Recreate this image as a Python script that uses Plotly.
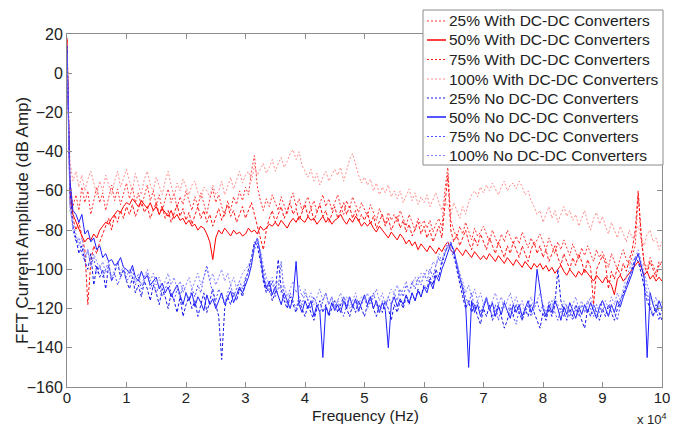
import plotly.graph_objects as go

# Frequency grid (Hz)
freq = [0, 250] + list(range(500, 100001, 500))

w25 = [17, -30,
       -55, -68, -62, -70, -58, -66, -60, -72, -64, -58,
       -66, -61, -70, -63, -57, -65, -59, -67, -62, -56,
       -64, -58, -66, -61, -68, -63, -57, -65, -60, -67,
       -62, -70, -64, -59, -66, -61, -69, -63, -67, -60,
       -65, -70, -63, -68, -61, -66, -72, -64, -59, -66,
       -62, -68, -73, -65, -70, -63, -67, -60, -65, -58,
       -62, -50, -42, -58, -65, -70, -64, -68, -62, -66,
       -70, -63, -67, -72, -65, -61, -68, -64, -70, -66,
       -63, -69, -65, -71, -67, -62, -68, -64, -70, -66,
       -62, -68, -72, -65, -69, -63, -67, -71, -66, -70,
       -73, -67, -71, -75, -69, -73, -77, -71, -75, -72,
       -76, -70, -74, -78, -72, -76, -80, -74, -78, -75,
       -79, -75, -81, -77, -74, -79, -60, -48, -75, -80,
       -84, -78, -82, -76, -80, -85, -79, -83, -81, -78,
       -82, -86, -80, -84, -88, -82, -86, -80, -84, -87,
       -83, -87, -81, -85, -89, -84, -88, -85, -82, -86,
       -90, -84, -88, -92, -86, -90, -85, -89, -93, -87,
       -91, -95, -89, -93, -88, -92, -96, -90, -94, -91,
       -95, -99, -92, -96, -100, -94, -90, -95, -98, -93,
       -88, -62, -85, -96, -100, -94, -98, -102, -96, -99]

w50 = [18, -30,
       -60, -72, -76, -80, -83, -86, -84, -85, -82, -84,
       -80, -78, -76, -77, -74, -72, -70, -71, -68, -66,
       -67, -64, -66, -68, -65, -67, -69, -66, -70, -68,
       -72, -69, -71, -73, -70, -74, -72, -75, -74, -77,
       -75, -78, -77, -80, -78, -79, -82, -86, -95, -84,
       -80, -82, -79, -81, -83, -80, -82, -81, -83, -82,
       -79, -81, -80, -82, -78, -80, -79, -77, -78, -76,
       -78, -75, -77, -79, -76, -74, -76, -73, -75, -76,
       -73, -75, -74, -77, -75, -73, -76, -74, -77, -75,
       -74, -72, -75, -77, -74, -76, -73, -75, -78, -76,
       -78, -76, -79, -81, -78, -80, -82, -84, -81, -83,
       -85, -82, -84, -87, -85, -88, -86, -90, -87, -89,
       -91, -88, -90, -92, -89, -91, -88, -86, -90, -92,
       -89, -91, -93, -90, -92, -94, -91, -93, -95, -93,
       -95, -92, -94, -96, -93, -95, -97, -94, -96, -98,
       -95, -97, -99, -96, -98, -100, -97, -99, -97, -100,
       -98, -101, -99, -102, -100, -98, -101, -103, -100, -102,
       -104, -101, -103, -100, -102, -104, -106, -103, -105, -107,
       -104, -106, -108, -113, -105, -103, -106, -104, -102, -100,
       -98, -96, -99, -103, -101, -105, -103, -106, -104, -106]

w75 = [16, -35,
       -66, -74, -80, -76, -84, -90, -118, -96, -88, -92,
       -86, -82, -78, -74, -80, -72, -76, -70, -74, -68,
       -72, -67, -73, -69, -65, -71, -68, -74, -70, -66,
       -72, -68, -74, -70, -76, -71, -67, -73, -69, -75,
       -71, -77, -72, -68, -74, -70, -76, -72, -78, -73,
       -69, -75, -71, -67, -73, -70, -76, -72, -68, -74,
       -70, -66, -72, -78, -84, -90, -80, -74, -70, -76,
       -72, -68, -74, -70, -66, -72, -69, -75, -71, -67,
       -73, -69, -75, -71, -67, -73, -70, -76, -72, -68,
       -74, -70, -66, -72, -68, -74, -70, -76, -72, -75,
       -71, -77, -73, -79, -75, -72, -78, -74, -80, -76,
       -73, -79, -75, -81, -77, -83, -79, -76, -82, -78,
       -84, -80, -86, -82, -78, -84, -66, -52, -80, -86,
       -82, -88, -84, -80, -86, -90, -84, -88, -82, -86,
       -90, -84, -88, -92, -86, -90, -94, -88, -92, -86,
       -90, -94, -88, -92, -96, -90, -86, -92, -88, -94,
       -90, -96, -92, -88, -94, -98, -92, -96, -100, -94,
       -98, -92, -96, -102, -95, -99, -118, -100, -96, -93,
       -97, -110, -101, -105, -99, -103, -97, -101, -95, -90,
       -80, -60, -82, -98, -102, -96, -100, -104, -98, -96]

w100 = [15, -25,
        -45, -55, -50, -58, -52, -60, -54, -50, -56, -62,
        -55, -60, -52, -57, -62, -55, -50, -58, -53, -49,
        -55, -60, -51, -56, -62, -54, -50, -57, -60, -53,
        -58, -62, -55, -50, -57, -63, -56, -60, -54, -58,
        -62, -57, -55, -61, -64, -58, -60, -63, -57, -62,
        -60, -55, -62, -58, -53, -59, -55, -50, -56, -52,
        -50, -55, -47, -52, -49, -46, -51, -48, -44, -50,
        -46, -43, -48, -45, -41, -39, -44, -40, -47, -50,
        -53, -49, -55, -51, -57, -53, -50, -55, -52, -49,
        -52, -48, -55, -50, -44, -41, -47, -52, -56, -53,
        -57, -54, -60, -56, -62, -58, -61, -57, -63, -60,
        -64, -60, -66, -62, -59, -65, -61, -67, -63, -66,
        -62, -68, -64, -61, -66, -70, -64, -68, -72, -66,
        -70, -74, -68, -72, -66, -62, -60, -63, -58, -61,
        -57, -60, -56, -59, -62, -58, -55, -60, -57, -56,
        -59, -55, -58, -62, -60, -65, -68, -72, -70, -76,
        -72, -68, -74, -70, -76, -72, -68, -73, -70, -75,
        -72, -78, -74, -70, -76, -80, -74, -71, -77, -73,
        -78, -82, -76, -80, -84, -78, -82, -86, -80, -84,
        -82, -78, -84, -88, -82, -80, -86, -84, -90, -86]

n25 = [14, -25,
       -60, -78, -84, -92, -88, -96, -100, -92, -108, -98,
       -104, -100, -110, -98, -106, -102, -96, -104, -100, -106,
       -110, -104, -112, -108, -114, -106, -110, -116, -108, -112,
       -118, -110, -114, -120, -112, -116, -122, -114, -124, -118,
       -114, -120, -116, -124, -118, -112, -122, -116, -110, -118,
       -124, -146, -120, -114, -118, -112, -116, -110, -114, -106,
       -100, -94, -86, -88, -96, -106, -112, -108, -116, -112,
       -95, -110, -116, -120, -114, -118, -122, -116, -120, -124,
       -118, -122, -126, -120, -116, -122, -118, -124, -120, -116,
       -122, -118, -114, -120, -124, -118, -122, -116, -120, -124,
       -118, -114, -120, -124, -118, -122, -116, -120, -126, -118,
       -122, -116, -120, -114, -118, -112, -116, -110, -114, -108,
       -110, -104, -108, -100, -104, -96, -92, -88, -86, -92,
       -100, -108, -114, -120, -116, -122, -118, -124, -128, -120,
       -124, -118, -126, -122, -118, -124, -130, -126, -120, -124,
       -118, -122, -126, -120, -124, -118, -122, -126, -130, -122,
       -126, -120, -124, -118, -100, -116, -122, -126, -120, -124,
       -118, -122, -126, -130, -120, -124, -118, -122, -126, -120,
       -124, -118, -122, -126, -120, -116, -112, -108, -104, -100,
       -94, -96, -102, -110, -116, -120, -124, -118, -122, -126]

n50 = [12, -20,
       -55, -70, -72, -76, -72, -82, -80, -86, -84, -90,
       -88, -94, -92, -96, -95, -98, -97, -94, -99, -100,
       -102, -98, -104, -106, -101, -105, -103, -108, -106, -104,
       -110, -107, -112, -109, -114, -111, -108, -113, -118, -112,
       -116, -112, -119, -114, -117, -121, -113, -118, -115, -120,
       -116, -112, -118, -114, -111, -117, -113, -109, -112, -108,
       -104, -98, -88, -84, -92, -104, -110, -106, -113, -109,
       -114, -118, -112, -116, -120, -114, -96, -118, -122, -116,
       -120, -116, -124, -118, -122, -145, -119, -123, -117, -121,
       -118, -122, -116, -120, -114, -119, -115, -121, -117, -113,
       -118, -114, -120, -116, -122, -117, -121, -140, -118, -114,
       -119, -115, -118, -113, -117, -112, -116, -111, -114, -109,
       -112, -106, -110, -103, -106, -100, -96, -92, -87, -90,
       -98, -104, -110, -118, -150, -116, -122, -118, -124, -119,
       -115, -121, -117, -124, -119, -123, -117, -121, -125, -118,
       -122, -118, -124, -120, -116, -122, -118, -100, -110, -120,
       -124, -118, -122, -116, -120, -126, -119, -123, -117, -121,
       -125, -119, -123, -118, -122, -117, -121, -125, -119, -116,
       -120, -124, -118, -122, -116, -119, -114, -110, -106, -102,
       -96, -92, -98, -104, -145, -112, -118, -122, -116, -120]

n75 = [13, -30,
       -66, -80, -86, -84, -92, -96, -90, -98, -94, -102,
       -98, -104, -100, -96, -106, -102, -108, -104, -100, -106,
       -104, -100, -108, -104, -110, -106, -102, -110, -106, -112,
       -108, -114, -110, -106, -112, -116, -110, -114, -108, -112,
       -116, -110, -114, -108, -112, -104, -98, -106, -112, -116,
       -110, -114, -118, -112, -108, -114, -110, -106, -110, -104,
       -102, -96, -90, -86, -94, -102, -108, -112, -106, -114,
       -110, -96, -114, -118, -112, -116, -120, -114, -118, -112,
       -116, -120, -114, -118, -122, -116, -112, -118, -114, -120,
       -116, -120, -124, -118, -114, -120, -116, -122, -118, -114,
       -120, -116, -112, -118, -122, -116, -120, -114, -118, -112,
       -116, -110, -114, -108, -112, -106, -110, -104, -108, -102,
       -106, -100, -104, -98, -94, -98, -92, -88, -90, -94,
       -98, -104, -108, -114, -118, -112, -120, -116, -122, -118,
       -114, -120, -124, -118, -126, -120, -116, -122, -118, -124,
       -128, -120, -126, -122, -118, -124, -120, -116, -122, -118,
       -124, -120, -116, -122, -126, -120, -124, -118, -122, -126,
       -120, -124, -118, -122, -116, -120, -124, -118, -122, -116,
       -120, -124, -118, -122, -126, -118, -114, -108, -104, -98,
       -96, -92, -98, -106, -112, -118, -124, -120, -126, -120]

n100 = [10, -35,
        -70, -76, -82, -88, -84, -94, -90, -98, -92, -96,
        -100, -96, -102, -98, -104, -100, -96, -102, -98, -104,
        -100, -104, -106, -102, -108, -104, -100, -106, -102, -108,
        -104, -110, -106, -102, -108, -104, -110, -106, -112, -108,
        -104, -110, -106, -102, -108, -104, -100, -106, -102, -108,
        -104, -100, -106, -102, -108, -104, -110, -106, -102, -100,
        -98, -94, -88, -84, -90, -98, -104, -108, -104, -110,
        -106, -112, -108, -114, -110, -106, -112, -108, -114, -110,
        -116, -112, -118, -114, -110, -116, -112, -118, -114, -120,
        -116, -112, -118, -114, -120, -116, -112, -118, -114, -116,
        -112, -118, -114, -110, -116, -112, -118, -114, -110, -112,
        -108, -114, -110, -106, -112, -108, -104, -108, -102, -104,
        -100, -102, -96, -98, -92, -96, -90, -86, -90, -92,
        -96, -102, -106, -112, -108, -114, -110, -116, -112, -118,
        -114, -120, -116, -112, -118, -114, -120, -116, -112, -118,
        -114, -120, -116, -122, -118, -114, -120, -116, -112, -118,
        -122, -116, -120, -114, -118, -122, -116, -120, -124, -118,
        -114, -120, -116, -122, -118, -114, -120, -124, -118, -122,
        -116, -120, -114, -118, -112, -116, -110, -104, -100, -96,
        -94, -90, -96, -102, -108, -112, -118, -114, -120, -116]

names = ["25% With DC-DC Converters", "50% With DC-DC Converters",
         "75% With DC-DC Converters", "100% With DC-DC Converters",
         "25% No DC-DC Converters", "50% No DC-DC Converters",
         "75% No DC-DC Converters", "100% No DC-DC Converters"]
series = [w25, w50, w75, w100, n25, n50, n75, n100]

xtick_vals = [0, 10000, 20000, 30000, 40000, 50000, 60000, 70000, 80000, 90000, 100000]
xtick_text = ["0", "1", "2", "3", "4", "5", "6", "7", "8", "9", "10"]
ytick_vals = [-160, -140, -120, -100, -80, -60, -40, -20, 0, 20]

styles = [
    dict(color="rgb(255,50,50)", dash="2px,2px", width=1),
    dict(color="rgb(255,0,0)", dash="solid", width=1),
    dict(color="rgb(255,20,20)", dash="3px,2px", width=1),
    dict(color="rgb(255,140,140)", dash="2px,2px", width=1),
    dict(color="rgb(20,20,235)", dash="3px,2px", width=1),
    dict(color="rgb(30,30,255)", dash="solid", width=1),
    dict(color="rgb(80,80,255)", dash="2px,2px", width=1),
    dict(color="rgb(130,130,255)", dash="2px,2px", width=1),
]

for s in series:
    assert len(s) == len(freq), len(s)

fig = go.Figure()
for name, ys, st in zip(names, series, styles):
    fig.add_trace(go.Scatter(x=freq, y=ys, mode="lines", name=name, line=st, showlegend=False))

# The page body has an 8px margin, so the figure is drawn at (8, 8) in the window.
OFF = 8
W, H = 685 - OFF, 428 - OFF
# desired plot area in window pixels
X0, X1, Y0, Y1 = 67, 662, 34, 387
L, R, T, B = X0 - OFF, 685 - X1, Y0 - OFF, 428 - Y1
PW, PH = X1 - X0, Y1 - Y0
def px(x):
    return (x - X0) / PW
def py(y):
    return (Y1 - y) / PH

axis_common = dict(showline=True, linecolor="#8c8c8c", linewidth=1, mirror="ticks",
                   ticks="inside", ticklen=5, tickcolor="#8c8c8c", showgrid=False,
                   zeroline=False)

fig.update_layout(
    width=W, height=H,
    margin=dict(l=L, r=R, t=T, b=B),
    paper_bgcolor="white", plot_bgcolor="white",
    font=dict(family="Liberation Sans, Arial, sans-serif", size=16, color="#222"),
    xaxis=dict(range=[0, 100000], tickvals=xtick_vals, ticktext=xtick_text,
               tickfont=dict(size=15, color="#222"), ticklabelstandoff=-3, **axis_common),
    yaxis=dict(range=[-160, 20], tickvals=ytick_vals,
               tickfont=dict(size=16, color="#222"), **axis_common),
    showlegend=False,
)

# axis titles
fig.add_annotation(x=px(365), y=py(415), xref="paper", yref="paper", xanchor="center",
                   yanchor="middle", text="Frequency (Hz)", borderpad=0,
                   showarrow=False, font=dict(size=15.5, color="#222"))
fig.add_annotation(x=px(22), y=py(221), xref="paper", yref="paper", xanchor="center",
                   yanchor="middle", text="FFT Current Amplitude (dB Amp)", textangle=-90,
                   showarrow=False, font=dict(size=17, color="#222"))
fig.add_annotation(x=px(669), y=py(429), xref="paper", yref="paper", xanchor="right",
                   yanchor="bottom", text="x 10<sup>4</sup>", showarrow=False,
                   font=dict(size=13, color="#222"))

# legend box
fig.add_shape(type="rect", xref="paper", yref="paper", x0=px(423), x1=px(663),
              y0=py(165), y1=py(10), fillcolor="white", line=dict(color="#8c8c8c", width=1),
              layer="above")
entry_y = [21, 40, 59.5, 79, 98, 117, 136.5, 155.5]
for name, st, ey in zip(names, styles, entry_y):
    fig.add_shape(type="line", xref="paper", yref="paper", x0=px(427), x1=px(446),
                  y0=py(ey), y1=py(ey),
                  line=dict(color=st["color"],
                            dash="solid" if st["dash"] == "solid" else "2px,2px",
                            width=1.5 if st["dash"] == "solid" else 1),
                  layer="above")
    fig.add_annotation(x=px(447), y=py(ey), xref="paper", yref="paper", xanchor="left",
                       yanchor="middle", text=name, showarrow=False,
                       font=dict(size=15.5, color="#222"))

fig.write_html("out.html")
